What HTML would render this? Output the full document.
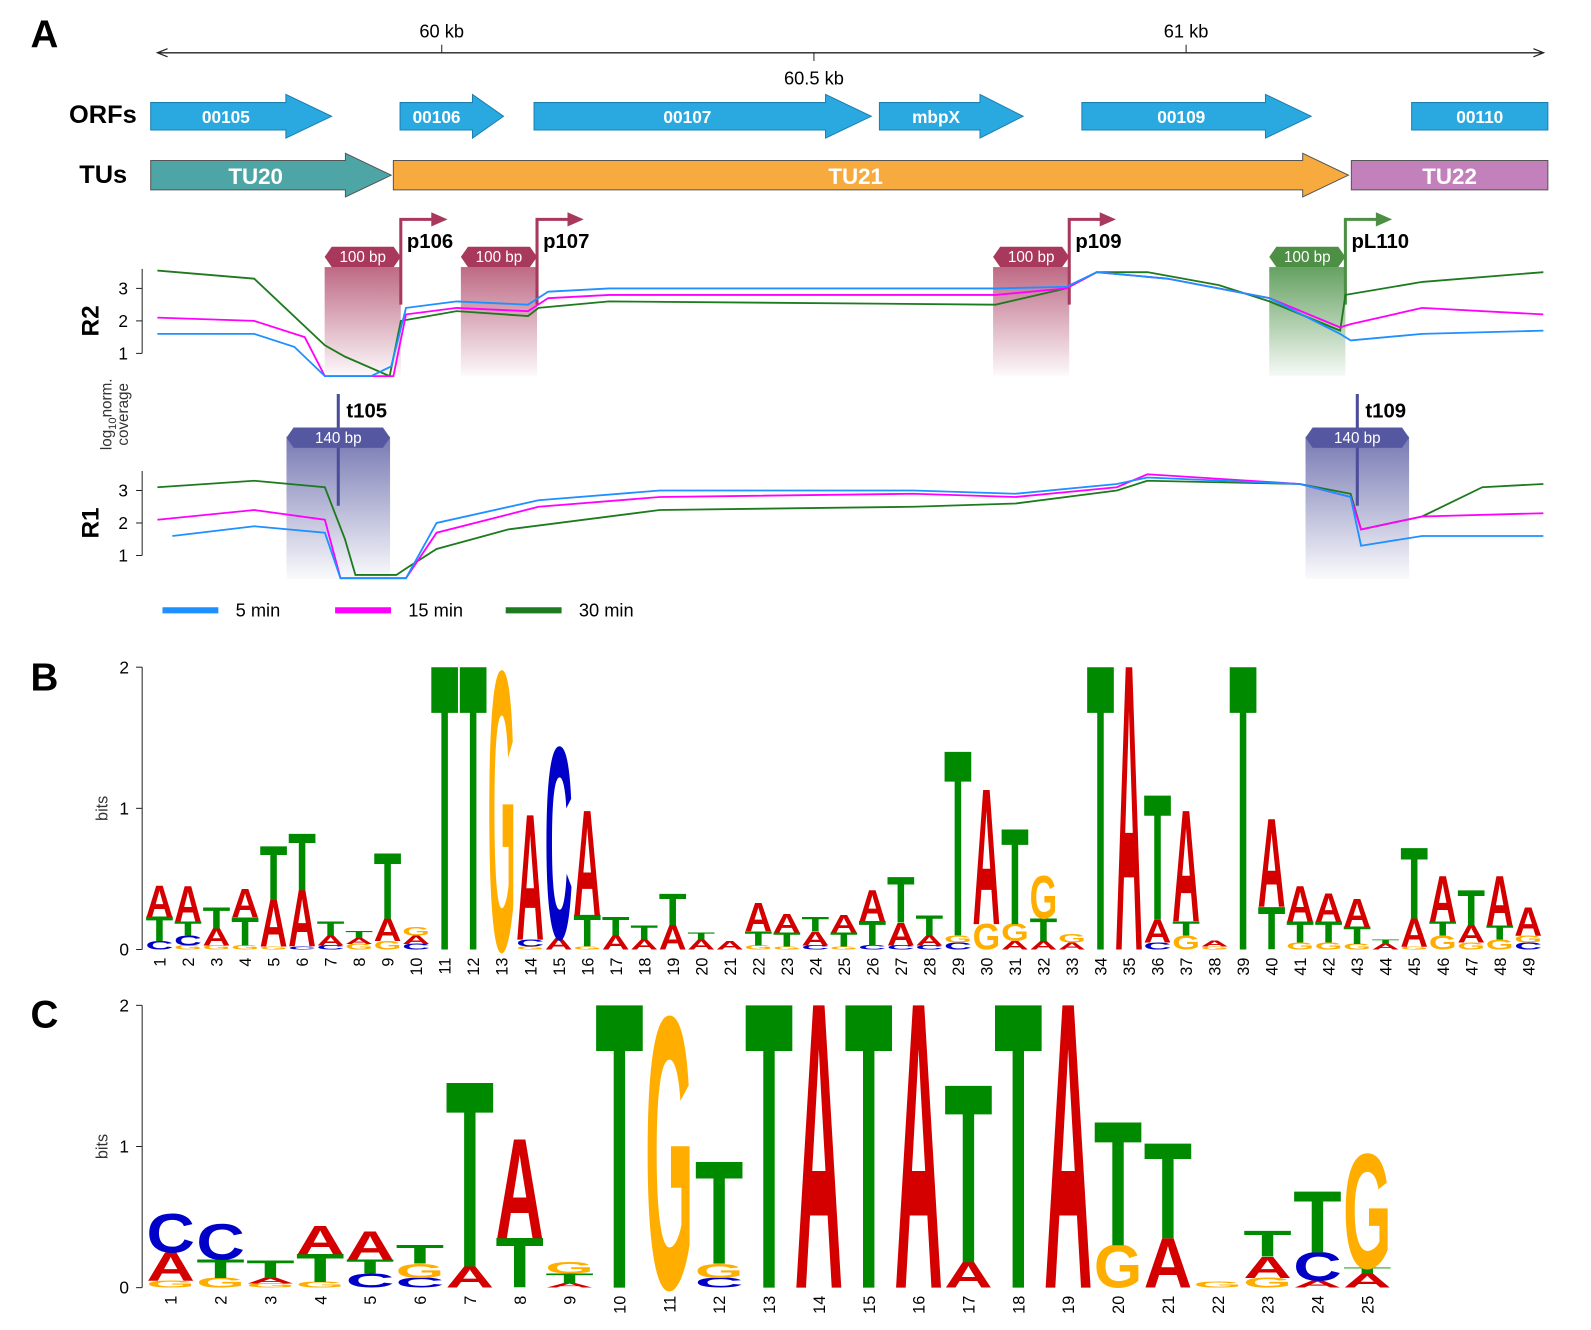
<!DOCTYPE html>
<html><head><meta charset="utf-8">
<style>
html,body{margin:0;padding:0;background:#fff;}
svg{display:block;font-family:"Liberation Sans",Arial,sans-serif;}
</style></head>
<body>
<svg id="fig" width="1591" height="1330" viewBox="0 0 1591 1330" xmlns="http://www.w3.org/2000/svg">
<defs>
<linearGradient id="gRed" x1="0" y1="0" x2="0" y2="1"><stop offset="0" stop-color="#a8385c" stop-opacity="0.75"/><stop offset="1" stop-color="#a8385c" stop-opacity="0.03"/></linearGradient>
<linearGradient id="gGreen" x1="0" y1="0" x2="0" y2="1"><stop offset="0" stop-color="#3f8a3a" stop-opacity="0.8"/><stop offset="1" stop-color="#3f8a3a" stop-opacity="0.05"/></linearGradient>
<linearGradient id="gBlue" x1="0" y1="0" x2="0" y2="1"><stop offset="0" stop-color="#5558a0" stop-opacity="0.8"/><stop offset="1" stop-color="#5558a0" stop-opacity="0.03"/></linearGradient>
</defs>
<g transform="scale(1.0155)">
<text x="30" y="47" font-size="38" font-weight="bold">A</text>
<text x="30" y="680" font-size="38" font-weight="bold">B</text>
<text x="30" y="1012" font-size="38" font-weight="bold">C</text>
<g id="gA"></g>
<g id="gB"></g>
<g id="gC"></g>
</g>
</svg>
<script>
// ---------- Panel A data ----------
const kbTicks = [60, 60.5, 61];
const kbTickLabels = ["60 kb", "60.5 kb", "61 kb"];
const r2Blue = [[59.618,1.6],[59.748,1.6],[59.802,1.2],[59.843,0.3],[59.905,0.3],[59.932,0.6],[59.952,2.4],[60.020,2.6],[60.116,2.5],[60.143,2.9],[60.225,3.0],[60.744,3.0],[60.839,3.05],[60.880,3.5],[60.975,3.3],[61.112,2.7],[61.207,1.6],[61.221,1.4],[61.317,1.6],[61.480,1.7]];
const r2Magenta = [[59.618,2.1],[59.748,2.0],[59.816,1.5],[59.843,0.3],[59.935,0.3],[59.952,2.2],[60.020,2.4],[60.116,2.3],[60.143,2.7],[60.225,2.8],[60.744,2.8],[60.839,3.0],[60.880,3.5],[60.975,3.3],[61.112,2.7],[61.207,1.8],[61.221,1.9],[61.317,2.4],[61.480,2.2]];
const r2Green = [[59.618,3.55],[59.748,3.3],[59.843,1.25],[59.870,0.9],[59.930,0.3],[59.945,2.0],[60.020,2.3],[60.116,2.15],[60.130,2.4],[60.225,2.6],[60.744,2.5],[60.839,3.0],[60.880,3.5],[60.948,3.5],[61.044,3.1],[61.112,2.6],[61.207,1.7],[61.214,2.8],[61.317,3.2],[61.480,3.5]];
const r1Blue = [[59.638,1.6],[59.748,1.9],[59.843,1.7],[59.864,0.3],[59.952,0.3],[59.993,2.0],[60.130,2.7],[60.293,3.0],[60.634,3.0],[60.771,2.9],[60.907,3.2],[60.948,3.4],[61.153,3.2],[61.221,2.8],[61.235,1.3],[61.317,1.6],[61.480,1.6]];
const r1Magenta = [[59.618,2.1],[59.748,2.4],[59.843,2.1],[59.864,0.3],[59.952,0.3],[59.993,1.7],[60.130,2.5],[60.293,2.8],[60.634,2.9],[60.771,2.8],[60.907,3.1],[60.948,3.5],[61.153,3.2],[61.221,2.8],[61.235,1.8],[61.317,2.2],[61.480,2.3]];
const r1Green = [[59.618,3.1],[59.748,3.3],[59.843,3.1],[59.870,1.5],[59.884,0.4],[59.939,0.4],[59.952,0.6],[59.993,1.2],[60.089,1.8],[60.293,2.4],[60.634,2.5],[60.771,2.6],[60.907,3.0],[60.948,3.3],[61.153,3.2],[61.221,2.9],[61.235,1.8],[61.317,2.2],[61.398,3.1],[61.480,3.2]];
const orfs = [["00105",59.609,59.852,true],["00106",59.944,60.083,true],["00107",60.124,60.577,true],["mbpX",60.588,60.781,true],["00109",60.860,61.168,true],["00110",61.303,61.486,false]];
const tus = [["TU20",59.609,59.932,"#4ea5a6"],["TU21",59.935,61.218,"#f7ab3f"],["TU22",61.222,61.486,"#c381bc"]];
const promoters = [["p106",59.945,"red"],["p107",60.128,"red"],["p109",60.843,"red"],["pL110",61.214,"green"]];
const terminators = [["t105",59.861],["t109",61.230]];

// ---------- Panel B / C logo data (bottom to top) ----------
const logoB = [
 [["C",.06],["T",.17],["A",.22]],[["G",.03],["C",.07],["T",.1],["A",.25]],[["G",.03],["A",.12],["T",.15]],[["G",.03],["T",.2],["A",.2]],
 [["G",.02],["A",.33],["T",.38]],[["C",.02],["A",.4],["T",.4]],[["C",.03],["A",.07],["T",.1]],[["G",.04],["A",.04],["T",.05]],
 [["G",.06],["A",.16],["T",.46]],[["C",.04],["A",.06],["G",.06]],[["T",2]],[["T",2]],[["G",1.95]],
 [["G",.02],["C",.05],["A",.88]],[["A",.08],["C",1.34]],[["G",.02],["T",.22],["A",.74]],[["A",.1],["T",.13]],[["A",.07],["T",.1]],
 [["A",.17],["T",.22]],[["A",.07],["T",.05]],[["A",.06]],[["G",.03],["T",.1],["A",.2]],[["G",.02],["T",.1],["A",.13]],
 [["C",.03],["A",.1],["T",.1]],[["G",.02],["T",.1],["A",.12]],[["C",.03],["T",.17],["A",.22]],[["C",.03],["A",.16],["T",.32]],
 [["C",.03],["A",.07],["T",.14]],[["C",.05],["G",.05],["T",1.3]],[["G",.18],["A",.95]],[["A",.06],["G",.12],["T",.67]],
 [["A",.06],["T",.16],["G",.3]],[["A",.05],["G",.06]],[["T",2]],[["A",2]],[["C",.05],["A",.16],["T",.88]],
 [["G",.1],["T",.1],["A",.78]],[["G",.02],["A",.04]],[["T",2]],[["T",.3],["A",.62]],[["G",.05],["T",.15],["A",.25]],
 [["G",.05],["T",.15],["A",.2]],[["G",.04],["T",.12],["A",.2]],[["A",.04],["T",.03]],[["G",.02],["A",.2],["T",.5]],
 [["G",.1],["T",.1],["A",.32]],[["G",.05],["A",.12],["T",.25]],[["G",.07],["T",.1],["A",.35]],[["C",.05],["G",.05],["A",.2]]
];
const logoC = [
 [["G",.05],["A",.2],["C",.27]],[["G",.07],["T",.13],["C",.25]],[["G",.03],["A",.04],["T",.12]],[["G",.04],["T",.2],["A",.2]],
 [["C",.1],["T",.1],["A",.2]],[["C",.07],["G",.1],["T",.13]],[["A",.15],["T",1.3]],[["T",.35],["A",.7]],[["A",.03],["T",.07],["G",.08]],
 [["T",2]],[["G",1.9]],[["C",.07],["G",.1],["T",.72]],[["T",2]],[["A",2]],[["T",2]],[["A",2]],[["A",.18],["T",1.25]],[["T",2]],[["A",2]],
 [["G",.3],["T",.87]],[["A",.35],["T",.67]],[["G",.04]],[["G",.07],["A",.15],["T",.18]],[["A",.05],["C",.2],["T",.43]],[["A",.1],["T",.04],["G",.8]]
];
const bitTicks = [0, 1, 2];

const NS = "http://www.w3.org/2000/svg";
function mk(parent, tag, attrs, text){
  const e = document.createElementNS(NS, tag);
  for (const k in attrs) e.setAttribute(k, attrs[k]);
  if (text !== undefined) e.textContent = text;
  parent.appendChild(e); return e;
}
const X = kb => 435 + (kb - 60) * 733;
const gA = document.getElementById("gA");

let el = mk(gA, "line", {x1:155, y1:52, x2:1520, y2:52, stroke:"#222", "stroke-width":1.3});


mk(gA, "path", {d:"M165 48 L155 52 L165 56 M1510 48 L1520 52 L1510 56", fill:"none", stroke:"#222", "stroke-width":1.2});
kbTicks.forEach((t, i) => {
  const x = X(t);
  const above = i !== 1;
  const tk = mk(gA, "line", {x1:x, y1:above?44:52, x2:x, y2:above?52:60, stroke:"#222"});
  
  
  const lb = mk(gA, "text", {x:x, y:above?37:83, "font-size":18, "text-anchor":"middle"}, kbTickLabels[i]);
  
  
});
el = mk(gA, "text", {x:68, y:121, "font-size":25, "font-weight":"bold"}, "ORFs");
 
el = mk(gA, "text", {x:78, y:180, "font-size":25, "font-weight":"bold"}, "TUs");
 

function arrowShape(x1, x2, yt, yb, headH, head){
  const hw = head ? Math.min(45, (x2-x1)*0.3) : 0;
  const yc = (yt+yb)/2;
  if (!head) return `M${x1} ${yt} L${x2} ${yt} L${x2} ${yb} L${x1} ${yb} Z`;
  return `M${x1} ${yt} L${x2-hw} ${yt} L${x2-hw} ${yt-headH} L${x2} ${yc} L${x2-hw} ${yb+headH} L${x2-hw} ${yb} L${x1} ${yb} Z`;
}
orfs.forEach(o => {
  const x1 = X(o[1]), x2 = X(o[2]);
  const a = mk(gA, "path", {d:arrowShape(x1, x2, 101, 128, 8, o[3]), fill:"#2aa9e0", stroke:"#1c7fb0", "stroke-width":1});
  
  
  const t = mk(gA, "text", {x:(x1 + x2 - (o[3]?30:0))/2, y:121, "font-size":17, "font-weight":"bold", fill:"#fff", "text-anchor":"middle"}, o[0]);
  
  
});
tus.forEach(o => {
  const x1 = X(o[1]), x2 = X(o[2]);
  const a = mk(gA, "path", {d:arrowShape(x1, x2, 158, 187, 7, o[0] !== "TU22"), fill:o[3], stroke:"#555", "stroke-width":1});
  
  
  const t = mk(gA, "text", {x:(x1 + x2 - 30)/2 + (o[0]==="TU22"?15:0), y:181, "font-size":22, "font-weight":"bold", fill:"#fff", "text-anchor":"middle"}, o[0]);
  
  
});

const plots = [
  {name:"R2", y1:348, blue:r2Blue, mag:r2Magenta, green:r2Green},
  {name:"R1", y1:547, blue:r1Blue, mag:r1Magenta, green:r1Green}
];
const PX_PER_UNIT = 32;
const gShade = mk(gA, "g", {});
plots.forEach(p => {
  const Y = v => p.y1 - (v - 1) * PX_PER_UNIT;
  const ax = mk(gA, "line", {x1:140, y1:Y(3.6), x2:140, y2:Y(1), stroke:"#222"});
  
  
  [1,2,3].forEach(v => {
    mk(gA, "line", {x1:134, y1:Y(v), x2:140, y2:Y(v), stroke:"#222"});
    const t = mk(gA, "text", {x:126, y:Y(v)+6, "font-size":17, "text-anchor":"end"}, v);
    
    
  });
  const lab = mk(gA, "text", {transform:`translate(97 ${Y(2)}) rotate(-90)`, "font-size":24, "font-weight":"bold", "text-anchor":"middle"}, p.name);
  
  
  [["green","#1e7a1e"],["mag","#ff00ff"],["blue","#1e90ff"]].forEach(s => {
    const d = p[s[0]].map((pt, i) => (i ? "L" : "M") + X(pt[0]).toFixed(1) + " " + Y(pt[1]).toFixed(1)).join(" ");
    const l = mk(gA, "path", {d:d, fill:"none", stroke:s[1], "stroke-width":1.8});
    
    
  });
});
el = mk(gA, "text", {transform:"translate(110 408) rotate(-90)", "font-size":15, "text-anchor":"middle", fill:"#333"});
 
el.innerHTML = 'log<tspan font-size="11" dy="4">10</tspan><tspan dy="-4">norm.</tspan>';
el = mk(gA, "text", {transform:"translate(126 408) rotate(-90)", "font-size":15, "text-anchor":"middle", fill:"#333"}, "coverage");
 

function hexLabel(cx, cy, w, fill, txt){
  const h = 10;
  mk(gShade, "path", {d:`M${cx-w/2} ${cy} L${cx-w/2+7} ${cy-h} L${cx+w/2-7} ${cy-h} L${cx+w/2} ${cy} L${cx+w/2-7} ${cy+h} L${cx-w/2+7} ${cy+h} Z`, fill:fill});
  mk(gShade, "text", {x:cx, y:cy+5, "font-size":15, fill:"#fff", "text-anchor":"middle"}, txt);
}
promoters.forEach(pr => {
  const x = X(pr[1]);
  const green = pr[2] === "green";
  const col = green ? "#4c8f45" : "#a8385c";
  const bw = 75;
  const box = mk(gShade, "rect", {x:x-bw, y:263, width:bw, height:107, fill:green?"url(#gGreen)":"url(#gRed)"});
  
  
  hexLabel(x - bw/2, 253, bw, col, "100 bp");
  const ar = mk(gShade, "path", {d:`M${x} ${300} L${x} 216 L${x+32} 216`, fill:"none", stroke:col, "stroke-width":3});
  
  
  mk(gShade, "path", {d:`M${x+30} 209 L${x+46} 216 L${x+30} 223 Z`, fill:col});
  const t = mk(gShade, "text", {x:x+6, y:244, "font-size":20, "font-weight":"bold"}, pr[0]);
  
  
});
terminators.forEach(tm => {
  const x = X(tm[1]);
  const box = mk(gShade, "rect", {x:x-51, y:430, width:102, height:140, fill:"url(#gBlue)"});
  
  
  const ln = mk(gShade, "line", {x1:x, y1:388, x2:x, y2:498, stroke:"#4b4d9a", "stroke-width":3});
  
  
  hexLabel(x, 431, 102, "#5558a0", "140 bp");
  const t = mk(gShade, "text", {x:x+8, y:411, "font-size":20, "font-weight":"bold"}, tm[0]);
  
  
});
gA.insertBefore(gShade, gA.firstChild);
[["5 min","#1e90ff",160],["15 min","#ff00ff",330],["30 min","#1e7a1e",498]].forEach(l => {
  const ln = mk(gA, "line", {x1:l[2], y1:601, x2:l[2]+55, y2:601, stroke:l[1], "stroke-width":6});
  
  
  const t = mk(gA, "text", {x:l[2]+72, y:607, "font-size":18}, l[0]);
  
  
});

const COLORS = {A:"#d40000", C:"#0000c8", G:"#ffae00", T:"#008a00"};
function drawLogo(g, data, y0, y2, x0, colW, tag){
  const unit = (y0 - y2) / 2;
  const ax = mk(g, "line", {x1:140, y1:y2, x2:140, y2:y0, stroke:"#222"});
  
  
  bitTicks.forEach(v => {
    mk(g, "line", {x1:134, y1:y0 - v*unit, x2:140, y2:y0 - v*unit, stroke:"#222"});
    const t = mk(g, "text", {x:127, y:y0 - v*unit + 6, "font-size":17, "text-anchor":"end"}, v);
    
    
  });
  const bt = mk(g, "text", {transform:`translate(106 ${y0 - unit}) rotate(-90)`, "font-size":16, "text-anchor":"middle", fill:"#333"}, "bits");
  
  
  data.forEach((stack, i) => {
    const xl = x0 + i*colW;
    let yb = y0;
    stack.forEach(s => {
      const h = s[1] * unit;
      if (h < 0.5) return;
      const sx = colW * 0.97 / 100, sy = h / 68.8;
      const t = mk(g, "text", {transform:`translate(${xl + colW*0.015} ${yb}) scale(${sx} ${sy})`, x:0, y:0, "font-size":100, "font-weight":"bold", fill:COLORS[s[0]], textLength:100, lengthAdjust:"spacingAndGlyphs"}, s[0]);
      
      
      yb -= h;
    });
    const lb = mk(g, "text", {transform:`translate(${xl + colW/2 + 6} ${y0 + 8}) rotate(-90)`, "font-size":16, "text-anchor":"end"}, i + 1);
    
    
  });
}
drawLogo(document.getElementById("gB"), logoB, 935, 657, 143, 28.08, "logo-b");
drawLogo(document.getElementById("gC"), logoC, 1268, 990, 143.5, 49.1, "logo-c");
</script>
</body></html>
